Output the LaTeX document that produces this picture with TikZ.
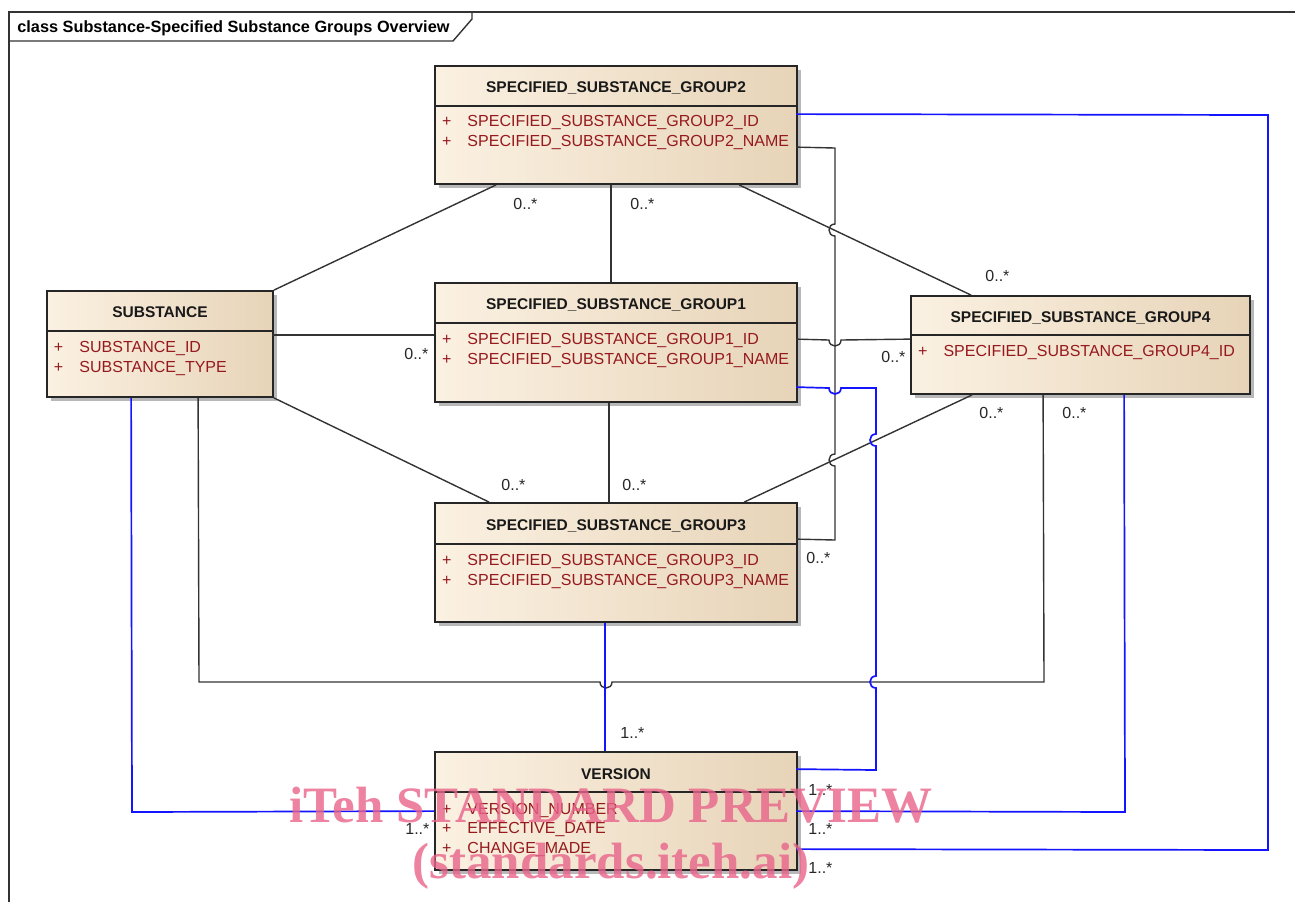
\documentclass[tikz,border=0pt]{standalone}
\usepackage{fontspec}
\setmainfont{Liberation Sans}
\newfontfamily\wmfont{Liberation Serif}
\usepackage{tikz}
\usetikzlibrary{calc, shadows}
\definecolor{BoxLeftColor}{RGB}{251,241,226}
\definecolor{BoxRightColor}{RGB}{231,212,184}
\definecolor{AttrColor}{RGB}{150,25,30}
\definecolor{LinkColor}{RGB}{20,20,255}
\definecolor{WmColor}{RGB}{232,100,138}
\tikzstyle{classbox} = [rectangle, draw=black!85, line width=0.9pt, left color=BoxLeftColor, right color=BoxRightColor, inner sep=0pt, drop shadow={shadow xshift=2pt, shadow yshift=-2pt, fill=black!28, opacity=1}]
\tikzstyle{divider} = [draw=black!85, line width=0.75pt]
\tikzstyle{headtext} = [font=\fontsize{7.75}{9}\selectfont\bfseries, text=black!90, inner sep=0pt, anchor=base]
\tikzstyle{attrtext} = [font=\fontsize{8}{10}\selectfont, text=AttrColor, inner sep=0pt, anchor=base west]
\tikzstyle{multtext} = [font=\fontsize{8}{10}\selectfont, text=black!85, inner sep=0pt, anchor=base west]
\tikzstyle{assoc} = [draw=black!80, line width=0.7pt]
\tikzstyle{versionlink} = [draw=LinkColor, line width=0.85pt]
\tikzstyle{frameline} = [draw=black!80, line width=0.7pt]
\tikzstyle{watermark} = [font=\wmfont\bfseries\fontsize{25.5}{30}\selectfont, text=WmColor, text opacity=0.8, inner sep=0pt, anchor=base]

\begin{document}
\begin{tikzpicture}[x=0.5pt, y=-0.5pt]
\useasboundingbox (0,0) rectangle (1295,902);

% Frame
\draw[frameline] (1295,12) -- (9,12) -- (9,902);
\draw[frameline] (9,41) -- (453,41) -- (472,19) -- (472,12);
\node[font=\fontsize{8.15}{10}\selectfont\bfseries, inner sep=0pt, anchor=base west] (title) at (17,32.5) {class Substance-Specified Substance Groups Overview};

% Classes
\node[classbox, minimum width=113pt, minimum height=53pt] (sub) at (160,344) {};
\node[classbox, minimum width=181pt, minimum height=59pt] (g2) at (616,125) {};
\node[classbox, minimum width=181pt, minimum height=59.5pt] (g1) at (616,342.5) {};
\node[classbox, minimum width=181pt, minimum height=59.5pt] (g3) at (616,562.5) {};
\node[classbox, minimum width=169.5pt, minimum height=49pt] (g4) at (1080.5,345) {};
\node[classbox, minimum width=181pt, minimum height=59pt] (ver) at (616,811) {};

% Compartments
\draw[divider] ($(sub.north west)+(0,41)$) -- ($(sub.north east)+(0,41)$);
\draw[divider] ($(g2.north west)+(0,41)$) -- ($(g2.north east)+(0,41)$);
\draw[divider] ($(g1.north west)+(0,41)$) -- ($(g1.north east)+(0,41)$);
\draw[divider] ($(g3.north west)+(0,42)$) -- ($(g3.north east)+(0,42)$);
\draw[divider] ($(g4.north west)+(0,40)$) -- ($(g4.north east)+(0,40)$);
\draw[divider] ($(ver.north west)+(0,41)$) -- ($(ver.north east)+(0,41)$);

% Class names
\node[headtext] (subhead) at ($(sub.north)+(0,27.5)$) {SUBSTANCE};
\node[headtext] (g2head) at ($(g2.north)+(0,27.5)$) {SPECIFIED\_SUBSTANCE\_GROUP2};
\node[headtext] (g1head) at ($(g1.north)+(0,27.5)$) {SPECIFIED\_SUBSTANCE\_GROUP1};
\node[headtext] (g3head) at ($(g3.north)+(0,28.5)$) {SPECIFIED\_SUBSTANCE\_GROUP3};
\node[headtext] (g4head) at ($(g4.north)+(0,27.5)$) {SPECIFIED\_SUBSTANCE\_GROUP4};
\node[headtext] (verhead) at ($(ver.north)+(0,28.5)$) {VERSION};

% Attributes
\node[attrtext] (subid) at ($(sub.north west)+(7.5,62.5)$) {\makebox[12.75pt][l]{+}SUBSTANCE\_ID};
\node[attrtext] (subtype) at ($(sub.north west)+(7.5,82.5)$) {\makebox[12.75pt][l]{+}SUBSTANCE\_TYPE};
\node[attrtext] (g2id) at ($(g2.north west)+(7.5,61.5)$) {\makebox[12.75pt][l]{+}SPECIFIED\_SUBSTANCE\_GROUP2\_ID};
\node[attrtext] (g2name) at ($(g2.north west)+(7.5,81.5)$) {\makebox[12.75pt][l]{+}SPECIFIED\_SUBSTANCE\_GROUP2\_NAME};
\node[attrtext] (g1id) at ($(g1.north west)+(7.5,62.5)$) {\makebox[12.75pt][l]{+}SPECIFIED\_SUBSTANCE\_GROUP1\_ID};
\node[attrtext] (g1name) at ($(g1.north west)+(7.5,82.5)$) {\makebox[12.75pt][l]{+}SPECIFIED\_SUBSTANCE\_GROUP1\_NAME};
\node[attrtext] (g3id) at ($(g3.north west)+(7.5,63.5)$) {\makebox[12.75pt][l]{+}SPECIFIED\_SUBSTANCE\_GROUP3\_ID};
\node[attrtext] (g3name) at ($(g3.north west)+(7.5,83.5)$) {\makebox[12.75pt][l]{+}SPECIFIED\_SUBSTANCE\_GROUP3\_NAME};
\node[attrtext] (g4id) at ($(g4.north west)+(7.5,61.5)$) {\makebox[12.75pt][l]{+}SPECIFIED\_SUBSTANCE\_GROUP4\_ID};
\node[attrtext] (vernum) at ($(ver.north west)+(7.5,63.5)$) {\makebox[12.75pt][l]{+}VERSION\_NUMBER};
\node[attrtext] (verdate) at ($(ver.north west)+(7.5,82.5)$) {\makebox[12.75pt][l]{+}EFFECTIVE\_DATE};
\node[attrtext] (verchange) at ($(ver.north west)+(7.5,102)$) {\makebox[12.75pt][l]{+}CHANGE\_MADE};

% Associations
\draw[assoc] (sub.north east) -- ($(g2.south west)+(62,0)$);
\draw[assoc] ($(g2.south west)+(177,0)$) -- ($(g1.north west)+(177,0)$);
\draw[assoc] ($(g2.south west)+(305,0)$) -- ($(g4.north west)+(61,0)$);
\draw[assoc] ($(sub.north west)+(226,45)$) -- ($(g1.north west)+(0,53)$);
\draw[assoc] (sub.south east) -- ($(g3.north west)+(55,0)$);
\draw[assoc] ($(g1.south west)+(175,0)$) -- ($(g3.north west)+(175,0)$);
\draw[assoc] ($(g4.south west)+(62,0)$) -- ($(g3.north west)+(310,0)$);
\draw[assoc] ($(g1.north west)+(362,57)$) -- (829,340) .. controls (829,348) and (841,348) .. (841,340) -- ($(g4.north west)+(0,44)$);
\draw[assoc] ($(g2.north west)+(362,82)$) -- (835,148) -- (835,224) .. controls (827,224) and (827,236) .. (835,236) -- (835,454) .. controls (827,454) and (827,466) .. (835,466) -- (835,540) -- ($(g3.north west)+(362,37)$);
\draw[assoc] ($(sub.south west)+(152,0)$) -- (199,682) -- (600,682) .. controls (600,690) and (612,690) .. (612,682) -- (1044,682) -- ($(g4.south west)+(133,0)$);

% Version links
\draw[versionlink] ($(g2.north west)+(362,49)$) -- (1268,115) -- (1268,850) -- ($(ver.north west)+(362,98)$);
\draw[versionlink] ($(g1.north west)+(362,105)$) -- (829,388) .. controls (829,396) and (841,396) .. (841,388) -- (876,388) -- (876,434) .. controls (868,434) and (868,446) .. (876,446) -- (876,676) .. controls (868,676) and (868,688) .. (876,688) -- (876,770) -- ($(ver.north west)+(362,18)$);
\draw[versionlink] ($(g3.south west)+(171,0)$) -- ($(ver.north west)+(171,0)$);
\draw[versionlink] ($(sub.south west)+(85,0)$) -- (132,812) -- ($(ver.north west)+(0,60)$);
\draw[versionlink] ($(g4.south west)+(214,0)$) -- (1125,812) -- ($(ver.north west)+(362,60)$);

% Multiplicities
\node[multtext] (msubg2) at (513,209.5) {0..*};
\node[multtext] (mg1g2) at (630,209.5) {0..*};
\node[multtext] (mg2g4) at (985,281.5) {0..*};
\node[multtext] (msubg1) at (404,359.5) {0..*};
\node[multtext] (mg1g4) at (881,362.5) {0..*};
\node[multtext] (msubg3) at (501,490.5) {0..*};
\node[multtext] (mg1g3) at (622,490.5) {0..*};
\node[multtext] (mg3g4) at (979,418.5) {0..*};
\node[multtext] (msubg4) at (1062,418.5) {0..*};
\node[multtext] (mg2g3) at (806,563.5) {0..*};
\node[multtext] (mg3ver) at (620,738.5) {1..*};
\node[multtext] (msubver) at (405,834.5) {1..*};
\node[multtext] (mg1ver) at (808,795.5) {1..*};
\node[multtext] (mg4ver) at (808,834.5) {1..*};
\node[multtext] (mg2ver) at (808,873.5) {1..*};

% Watermark
\node[watermark] (wmtop) at (611,822) {iTeh STANDARD PREVIEW};
\node[watermark] (wmbottom) at (611,878) {(standards.iteh.ai)};
\end{tikzpicture}
\end{document}
